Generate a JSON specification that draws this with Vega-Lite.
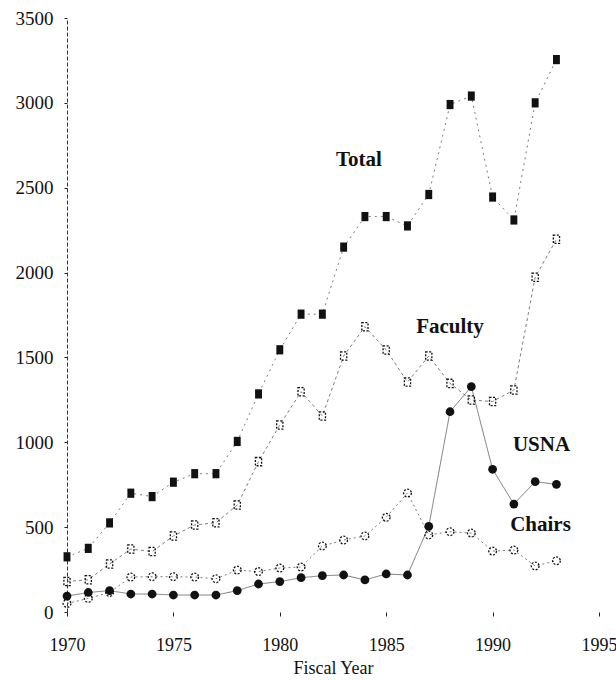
{
  "$schema": "https://vega.github.io/schema/vega-lite/v6.json",
  "width": 532,
  "height": 594,
  "autosize": {"type": "none"},
  "padding": {"left": 67, "top": 18, "right": 17, "bottom": 68},
  "background": "white",
  "config": {"view": {"stroke": null}, "font": "Liberation Serif"},
  "datasets": {
    "pts": [
      {"year": 1970, "series": "Total", "value": 325},
      {"year": 1971, "series": "Total", "value": 375},
      {"year": 1972, "series": "Total", "value": 525},
      {"year": 1973, "series": "Total", "value": 700},
      {"year": 1974, "series": "Total", "value": 680},
      {"year": 1975, "series": "Total", "value": 765},
      {"year": 1976, "series": "Total", "value": 815},
      {"year": 1977, "series": "Total", "value": 815},
      {"year": 1978, "series": "Total", "value": 1005},
      {"year": 1979, "series": "Total", "value": 1285},
      {"year": 1980, "series": "Total", "value": 1545},
      {"year": 1981, "series": "Total", "value": 1755},
      {"year": 1982, "series": "Total", "value": 1755},
      {"year": 1983, "series": "Total", "value": 2150},
      {"year": 1984, "series": "Total", "value": 2330},
      {"year": 1985, "series": "Total", "value": 2330},
      {"year": 1986, "series": "Total", "value": 2275},
      {"year": 1987, "series": "Total", "value": 2460},
      {"year": 1988, "series": "Total", "value": 2990},
      {"year": 1989, "series": "Total", "value": 3040},
      {"year": 1990, "series": "Total", "value": 2445},
      {"year": 1991, "series": "Total", "value": 2310},
      {"year": 1992, "series": "Total", "value": 3000},
      {"year": 1993, "series": "Total", "value": 3255},
      {"year": 1970, "series": "Faculty", "value": 180},
      {"year": 1971, "series": "Faculty", "value": 190},
      {"year": 1972, "series": "Faculty", "value": 283},
      {"year": 1973, "series": "Faculty", "value": 371},
      {"year": 1974, "series": "Faculty", "value": 356},
      {"year": 1975, "series": "Faculty", "value": 448},
      {"year": 1976, "series": "Faculty", "value": 513},
      {"year": 1977, "series": "Faculty", "value": 526},
      {"year": 1978, "series": "Faculty", "value": 630},
      {"year": 1979, "series": "Faculty", "value": 886},
      {"year": 1980, "series": "Faculty", "value": 1102},
      {"year": 1981, "series": "Faculty", "value": 1298},
      {"year": 1982, "series": "Faculty", "value": 1155},
      {"year": 1983, "series": "Faculty", "value": 1508},
      {"year": 1984, "series": "Faculty", "value": 1681},
      {"year": 1985, "series": "Faculty", "value": 1544},
      {"year": 1986, "series": "Faculty", "value": 1355},
      {"year": 1987, "series": "Faculty", "value": 1508},
      {"year": 1988, "series": "Faculty", "value": 1347},
      {"year": 1989, "series": "Faculty", "value": 1249},
      {"year": 1990, "series": "Faculty", "value": 1240},
      {"year": 1991, "series": "Faculty", "value": 1308},
      {"year": 1992, "series": "Faculty", "value": 1972},
      {"year": 1993, "series": "Faculty", "value": 2196},
      {"year": 1970, "series": "USNA", "value": 94},
      {"year": 1971, "series": "USNA", "value": 115},
      {"year": 1972, "series": "USNA", "value": 126},
      {"year": 1973, "series": "USNA", "value": 106},
      {"year": 1974, "series": "USNA", "value": 106},
      {"year": 1975, "series": "USNA", "value": 100},
      {"year": 1976, "series": "USNA", "value": 100},
      {"year": 1977, "series": "USNA", "value": 100},
      {"year": 1978, "series": "USNA", "value": 126},
      {"year": 1979, "series": "USNA", "value": 165},
      {"year": 1980, "series": "USNA", "value": 179},
      {"year": 1981, "series": "USNA", "value": 202},
      {"year": 1982, "series": "USNA", "value": 214},
      {"year": 1983, "series": "USNA", "value": 218},
      {"year": 1984, "series": "USNA", "value": 189},
      {"year": 1985, "series": "USNA", "value": 224},
      {"year": 1986, "series": "USNA", "value": 218},
      {"year": 1987, "series": "USNA", "value": 505},
      {"year": 1988, "series": "USNA", "value": 1180},
      {"year": 1989, "series": "USNA", "value": 1328},
      {"year": 1990, "series": "USNA", "value": 841},
      {"year": 1991, "series": "USNA", "value": 636},
      {"year": 1992, "series": "USNA", "value": 768},
      {"year": 1993, "series": "USNA", "value": 752},
      {"year": 1970, "series": "Chairs", "value": 50},
      {"year": 1971, "series": "Chairs", "value": 80},
      {"year": 1972, "series": "Chairs", "value": 115},
      {"year": 1973, "series": "Chairs", "value": 206},
      {"year": 1974, "series": "Chairs", "value": 208},
      {"year": 1975, "series": "Chairs", "value": 208},
      {"year": 1976, "series": "Chairs", "value": 206},
      {"year": 1977, "series": "Chairs", "value": 196},
      {"year": 1978, "series": "Chairs", "value": 247},
      {"year": 1979, "series": "Chairs", "value": 238},
      {"year": 1980, "series": "Chairs", "value": 259},
      {"year": 1981, "series": "Chairs", "value": 265},
      {"year": 1982, "series": "Chairs", "value": 389},
      {"year": 1983, "series": "Chairs", "value": 424},
      {"year": 1984, "series": "Chairs", "value": 448},
      {"year": 1985, "series": "Chairs", "value": 558},
      {"year": 1986, "series": "Chairs", "value": 701},
      {"year": 1987, "series": "Chairs", "value": 454},
      {"year": 1988, "series": "Chairs", "value": 473},
      {"year": 1989, "series": "Chairs", "value": 465},
      {"year": 1990, "series": "Chairs", "value": 359},
      {"year": 1991, "series": "Chairs", "value": 365},
      {"year": 1992, "series": "Chairs", "value": 271},
      {"year": 1993, "series": "Chairs", "value": 302}
    ],
    "labels": [
      {"label": "Total", "year": 1983.72, "value": 2665},
      {"label": "Faculty", "year": 1988.0, "value": 1680},
      {"label": "USNA", "year": 1992.3, "value": 985},
      {"label": "Chairs", "year": 1992.25, "value": 513}
    ]
  },
  "layer": [
    {
      "data": {"name": "pts"},
      "mark": {"type": "line", "strokeWidth": 0.7, "color": "#444"},
      "encoding": {
        "x": {
          "field": "year", "type": "quantitative",
          "scale": {"domain": [1970, 1995], "nice": false, "zero": false},
          "axis": {
            "values": [1970, 1975, 1980, 1985, 1990, 1995],
            "format": "d",
            "domain": false,
            "grid": false,
            "ticks": true,
            "tickSize": 4,
            "tickColor": "#222",
            "labelFont": "Liberation Serif",
            "labelFontSize": 18,
            "labelColor": "#111",
            "labelPadding": 20,
            "labelFlush": false,
            "labelOverlap": false,
            "title": "Fiscal Year",
            "titleFont": "Liberation Serif",
            "titleFontSize": 18,
            "titleFontWeight": "normal",
            "titleColor": "#111",
            "titlePadding": 5
          }
        },
        "y": {
          "field": "value", "type": "quantitative",
          "scale": {"domain": [0, 3500], "nice": false},
          "axis": {
            "values": [0, 500, 1000, 1500, 2000, 2500, 3000, 3500],
            "format": "d",
            "domain": true,
            "domainDash": [4, 2],
            "domainColor": "#333",
            "grid": false,
            "tickSize": 3,
            "tickColor": "#222",
            "labelFont": "Liberation Serif",
            "labelFontSize": 19,
            "labelColor": "#111",
            "labelPadding": 11,
            "title": null
          }
        },
        "detail": {"field": "series"},
        "strokeDash": {
          "field": "series", "type": "nominal",
          "scale": {"domain": ["Total", "Faculty", "USNA", "Chairs"], "range": [[2, 4], [3, 3], [1, 0], [2, 3]]},
          "legend": null
        }
      }
    },
    {
      "data": {"name": "pts"},
      "transform": [{"filter": "datum.series === 'Total' || datum.series === 'USNA'"}],
      "mark": {"type": "point", "filled": true, "opacity": 1, "color": "#111"},
      "encoding": {
        "x": {"field": "year", "type": "quantitative"},
        "y": {"field": "value", "type": "quantitative"},
        "shape": {
          "field": "series", "type": "nominal",
          "scale": {"domain": ["Total", "USNA"], "range": ["M-0.75,-1L0.75,-1L0.75,1L-0.75,1Z", "circle"]},
          "legend": null
        },
        "size": {
          "field": "series", "type": "nominal",
          "scale": {"domain": ["Total", "USNA"], "range": [85, 60]},
          "legend": null
        }
      }
    },
    {
      "data": {"name": "pts"},
      "transform": [{"filter": "datum.series === 'Faculty' || datum.series === 'Chairs'"}],
      "mark": {"type": "point", "filled": false, "opacity": 1, "color": "#111", "strokeWidth": 1.3, "strokeDash": [2, 1.5]},
      "encoding": {
        "x": {"field": "year", "type": "quantitative"},
        "y": {"field": "value", "type": "quantitative"},
        "shape": {
          "field": "series", "type": "nominal",
          "scale": {"domain": ["Faculty", "Chairs"], "range": ["square", "circle"]},
          "legend": null
        },
        "size": {
          "field": "series", "type": "nominal",
          "scale": {"domain": ["Faculty", "Chairs"], "range": [40, 32]},
          "legend": null
        }
      }
    },
    {
      "mark": {"type": "rule", "strokeDash": [4, 2], "color": "#333", "strokeWidth": 1},
      "encoding": {
        "x": {"datum": 1995},
        "y": {"datum": 0},
        "y2": {"datum": 3030}
      }
    },
    {
      "data": {"name": "labels"},
      "mark": {"type": "text", "font": "Liberation Serif", "fontSize": 21, "fontWeight": "bold", "align": "center", "baseline": "middle", "color": "#111"},
      "encoding": {
        "x": {"field": "year", "type": "quantitative"},
        "y": {"field": "value", "type": "quantitative"},
        "text": {"field": "label"}
      }
    }
  ]
}
